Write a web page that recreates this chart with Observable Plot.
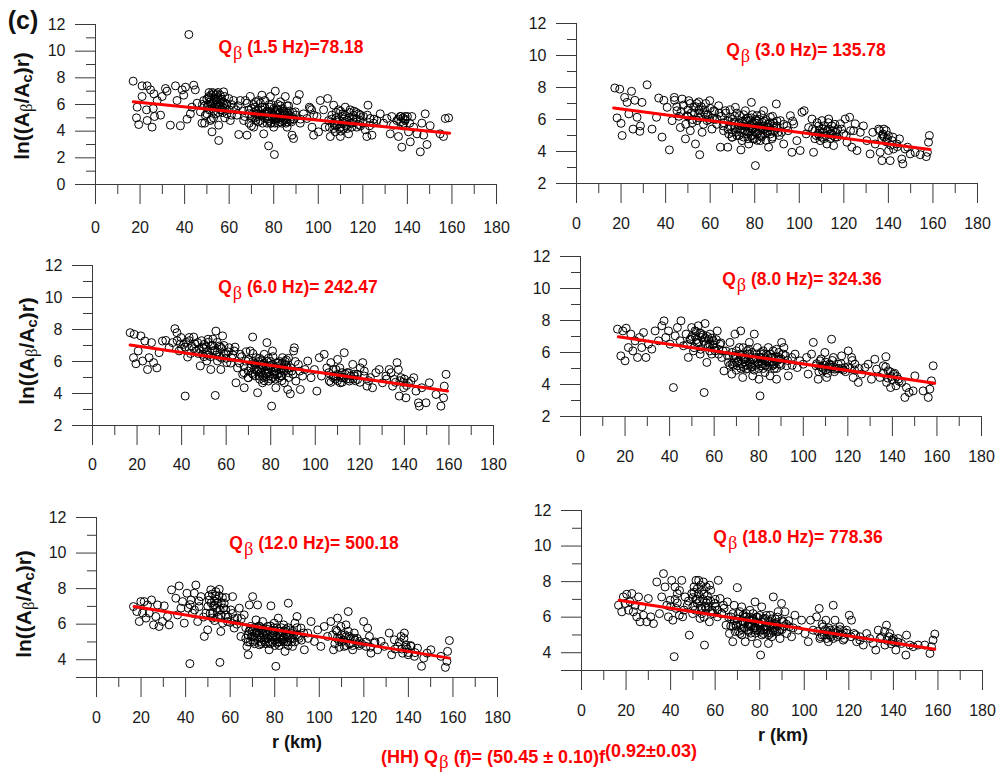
<!DOCTYPE html>
<html>
<head>
<meta charset="utf-8">
<script src="https://cdn.jsdelivr.net/npm/d3@7"></script>
<script src="https://cdn.jsdelivr.net/npm/@observablehq/plot@0.6"></script>
<style>
  html, body { margin: 0; padding: 0; background: #fff; }
  #root { position: relative; width: 999px; height: 774px; overflow: hidden; font-family: "Liberation Sans", Arial, sans-serif; }
  .abs { position: absolute; white-space: nowrap; transform: translate(-50%, -50%); }
  .qlab { color: #ff0000; font-weight: bold; font-size: 17.5px; }
  .beta { font-family: "Liberation Serif", "DejaVu Serif", serif; font-weight: normal; font-size: 1.05em; position: relative; top: 0.3em; margin-left: 1px; }
  .ytitle { font-weight: bold; font-size: 21px; color: #111; line-height: 24px; transform: translate(-50%, -50%) rotate(-90deg); }
  .ytitle sub { font-size: 0.7em; vertical-align: -0.2em; line-height: 0; }
  .ytitle .b { font-family: "Liberation Serif", "DejaVu Serif", serif; font-weight: normal; font-size: 0.8em; }
  .xtitle { font-weight: bold; font-size: 18px; color: #111; }
  .tag { font-weight: bold; font-size: 25px; color: #111; }
  .formula { color: #ff0000; font-weight: bold; font-size: 18px; line-height: 20px; }
  .formula sup { font-size: 1em; vertical-align: 0.35em; line-height: 0; }
  .formula .beta { top: 0.25em; line-height: 0; }
</style>
</head>
<body>
<div id="root"></div>
<script>
// ---------- tick values ----------
const xTicks = [0, 20, 40, 60, 80, 100, 120, 140, 160, 180];
const xMinorTicks = [10, 30, 50, 70, 90, 110, 130, 150, 170];
const yTicksAll = [0, 2, 4, 6, 8, 10, 12];
const yMinorAll = [1, 3, 5, 7, 9, 11];

// ---------- panel labels ----------
const freqs = ["1.5", "3.0", "6.0", "8.0", "12.0", "18.0"];
const qValues = ["=78.18", "= 135.78", "= 242.47", "= 324.36", "= 500.18", "= 778.36"];
const yMins = [0, 2, 2, 2, 3, 3];

// ---------- fitted lines (r, ln value) ----------
const fit1 = [[17, 6.2], [159, 3.85]];
const fit2 = [[16.7, 6.72], [158.7, 4.12]];
const fit3 = [[16.9, 7.03], [159.4, 4.15]];
const fit4 = [[17.0, 6.98], [159.0, 4.08]];
const fit5 = [[16.9, 6.99], [158.4, 4.09]];
const fit6 = [[16.9, 6.95], [158.6, 4.19]];

// ---------- observations (r km, ln((Aβ/Ac)r)) ----------
const pts1 = [[16.9,7.75],[18.7,5.8],[18.4,5.0],[19.4,4.5],[20.9,6.6],[20.9,7.4],[23.2,7.4],[22.9,5.6],[23.2,4.8],[24.7,7.1],[25.4,4.3],[26.2,6.8],[25.9,5.7],[26.5,5.1],[27.7,6.3],[29.2,5.2],[29.9,6.6],[31.4,7.2],[32.1,7.0],[33.6,4.45],[35.9,7.4],[36.6,6.3],[38.1,4.4],[38.9,7.1],[39.6,6.7],[40.4,7.3],[41.1,4.9],[41.9,11.25],[42.6,5.3],[43.3,5.8],[44.1,7.45],[44.8,7.1],[45.6,6.1],[47.1,5.45],[47.8,4.6],[48.6,6.3],[49.3,5.2],[50.1,5.8],[50.8,6.6],[51.6,4.8],[52.3,3.95],[53.1,6.3],[53.8,6.7],[54.6,5.8],[55.3,3.3],[55.3,4.45],[56.1,6.3],[56.8,5.6],[57.5,6.95],[58.3,6.1],[59.0,5.3],[59.8,6.45],[60.5,4.8],[62.0,5.8],[63.5,5.2],[64.3,3.75],[65.0,6.3],[66.5,4.8],[67.3,6.3],[68.0,3.7],[68.8,5.6],[69.5,6.6],[70.3,5.1],[71.0,4.3],[71.7,5.8],[72.5,5.3],[73.2,6.3],[74.0,4.8],[74.7,6.7],[75.5,3.8],[76.2,5.3],[77.0,4.6],[77.7,2.9],[78.2,5.8],[78.5,6.6],[79.2,5.1],[80.0,4.3],[80.3,2.25],[80.7,7.0],[81.5,5.6],[82.2,4.95],[83.0,6.2],[83.7,4.6],[84.5,5.3],[85.2,6.6],[86.0,4.3],[86.7,5.9],[87.4,4.8],[88.2,3.7],[88.9,3.45],[89.7,5.45],[90.4,6.3],[91.5,6.75],[91.9,4.6],[93.4,5.3],[94.9,4.95],[96.4,5.7],[97.2,4.3],[97.9,3.7],[99.4,5.1],[100.1,3.95],[100.9,6.3],[102.4,5.6],[103.1,4.3],[104.2,6.45],[104.6,4.8],[105.4,3.6],[106.1,5.2],[106.9,5.95],[107.6,3.95],[108.4,4.45],[109.1,5.6],[109.9,3.6],[110.6,5.1],[111.4,4.2],[112.1,5.8],[112.9,4.8],[113.6,3.8],[114.3,5.6],[115.1,4.6],[115.8,5.2],[117.3,4.3],[118.1,5.3],[118.8,4.8],[120.3,5.1],[121.1,4.1],[121.8,3.6],[122.3,5.95],[123.3,4.95],[124.1,3.7],[124.8,4.6],[126.3,4.8],[127.8,5.3],[129.3,4.6],[130.8,4.95],[132.3,3.8],[133.0,5.1],[133.8,4.45],[135.3,4.8],[136.0,3.6],[136.8,5.1],[137.5,2.8],[138.3,4.6],[139.0,5.1],[140.5,3.95],[141.3,3.2],[142.0,5.1],[142.8,4.3],[144.3,3.8],[145.8,2.45],[146.5,4.6],[147.3,3.7],[148.0,5.3],[148.8,3.0],[150.2,4.4],[154.7,3.8],[156.2,3.6],[157.0,4.95],[158.5,5.0],
[51,6.5],[52,6.0],[53,5.5],[54,6.4],[55,6.9],[56,5.6],[57,6.2],[58,5.0],[52,4.9],[50,5.3],[49,4.6],[48,6.0],[53,5.0],[55,6.0],[57,5.4],[70,5.0],[72,5.5],[73,4.7],[75,5.2],[76,5.8],[77,4.9],[78,5.4],[79,4.6],[80,5.2],[81,4.9],[82,5.6],[83,4.7],[84,5.1],[85,4.9],[86,5.4],[87,5.2],[88,4.7],[71,6.0],[74,6.1],[79,6.0],[83,5.9],[107,4.6],[108,5.0],[110,4.3],[111,5.3],[113,4.5],[114,5.0],[116,4.7],[117,5.4],[119,4.4],[136,4.9],[137,4.7],[138,5.0],[139,4.8]];
const dense1 = [[49,5.9],[50,6.4],[51,5.6],[51,6.9],[52,6.7],[53,6.1],[53,6.8],[54,5.3],[54,6.0],[55,5.4],[55,6.5],[56,6.1],[56,6.7],[57,5.8],[58,6.6],[58,5.7],[59,6.0],[60,5.6],[61,6.0],[61,5.2],[62,6.3],[63,5.6],[64,5.9],[66,5.5],[67,5.1],[68,6.1],[69,4.6],[69,5.3],[70,5.7],[70,4.4],[71,5.4],[72,4.8],[72,6.2],[73,5.6],[74,5.2],[75,4.6],[75,5.8],[76,5.0],[76,6.3],[77,5.5],[78,4.8],[78,6.0],[79,5.4],[80,4.9],[80,5.7],[81,5.3],[82,4.6],[82,6.0],[83,5.4],[84,4.8],[84,5.7],[85,5.2],[86,4.7],[86,5.9],[87,5.5],[88,5.1],[89,4.9],[90,5.2],[92,4.9],[96,5.8],[97,5.6],[98,5.2],[105,4.3],[106,4.9],[107,4.2],[108,5.4],[109,4.7],[110,4.0],[110,5.5],[111,4.6],[112,5.2],[113,4.2],[114,5.4],[115,4.3],[116,5.5],[117,4.9],[118,4.5],[119,5.2],[120,4.6],[122,5.2],[123,4.4],[125,4.9],[137,5.1],[138,4.4],[139,4.9],[140,5.1],[141,4.6]];
const core1 = [[50.5,6.0],[51.5,6.2],[52.5,5.7],[53.5,6.5],[54.5,6.2],[55.5,5.8],[56.5,6.4],[57.5,6.0],[52.5,6.9],[54.5,6.8],[71.5,5.0],[73.5,5.3],[74.5,5.6],[76.5,5.4],[77.5,5.1],[78.5,4.6],[79.5,5.0],[80.5,5.4],[81.5,5.0],[82.5,5.3],[83.5,5.0],[84.5,5.5],[85.5,4.6],[86.5,5.1],[87.5,4.9],[88.5,5.4],[72.5,5.1],[80.5,4.6],[107.5,4.4],[108.5,4.8],[109.5,4.2],[111.5,4.9],[112.5,4.4],[114.5,4.6],[115.5,4.9]];

const pts2 = [[17.2,7.97],[18.2,6.1],[19.4,7.9],[20.5,5.0],[20.0,5.76],[21.6,7.38],[22.7,7.07],[23.5,6.35],[24.7,7.76],[25.4,5.4],[26.2,7.2],[27.2,6.14],[28.4,5.26],[29.4,7.07],[28.7,5.6],[31.7,8.17],[33.9,5.4],[35.9,6.14],[36.9,7.34],[38.4,4.9],[39.2,7.2],[40.7,6.76],[41.7,4.1],[42.9,5.93],[43.9,7.38],[45.1,6.55],[46.6,5.5],[47.4,7.28],[48.9,4.79],[49.6,6.24],[50.4,7.18],[51.1,5.3],[52.6,6.76],[53.4,4.47],[54.1,5.93],[54.9,7.1],[55.3,3.8],[56.4,5.2],[57.1,6.45],[58.6,5.93],[59.8,7.18],[60.8,5.4],[61.6,6.55],[63.1,6.03],[63.8,6.86],[64.6,4.27],[65.8,5.6],[66.8,6.55],[67.9,4.27],[68.3,5.1],[69.1,6.14],[69.8,4.9],[70.6,5.83],[71.3,6.76],[72.3,5.4],[73.2,6.24],[73.8,4.1],[74.3,4.68],[75.0,5.72],[75.8,6.55],[76.5,5.1],[77.3,4.47],[78.0,5.93],[78.5,7.07],[79.2,5.4],[79.8,4.79],[80.3,3.12],[81.0,6.24],[81.8,5.5],[82.5,4.68],[83.3,5.83],[84.0,6.55],[84.8,5.1],[85.5,5.5],[86.2,4.27],[87.0,6.14],[87.7,4.79],[88.5,5.6],[89.7,6.97],[90.4,5.2],[91.5,5.93],[93.0,4.47],[94.5,5.6],[96.0,6.24],[96.7,3.95],[97.5,5.72],[98.9,4.68],[100.4,4.06],[101.2,6.45],[102.2,6.55],[103.1,5.1],[104.2,5.5],[105.7,6.03],[106.4,3.95],[107.6,5.0],[108.7,5.6],[109.4,4.68],[110.2,5.93],[110.9,5.2],[112.4,4.47],[113.2,6.03],[113.9,5.1],[114.6,5.6],[115.4,4.37],[116.1,4.9],[117.2,5.4],[118.4,5.72],[119.9,5.1],[120.6,6.03],[121.4,4.58],[122.6,6.14],[123.6,4.27],[124.4,5.3],[125.1,5.72],[125.9,4.06],[127.4,5.2],[128.8,5.6],[130.3,4.68],[131.8,3.85],[133.0,5.2],[134.1,4.47],[135.6,5.4],[136.3,3.95],[137.1,3.43],[137.5,5.1],[138.1,4.9],[139.0,5.3],[140.1,4.06],[140.8,3.43],[141.6,4.68],[142.3,4.16],[143.8,4.47],[145.0,4.79],[146.0,3.53],[146.5,3.23],[147.5,4.16],[148.6,4.27],[149.8,3.85],[152.0,3.95],[154.3,3.8],[157.0,3.68],[157.5,3.95],[158.0,4.58],[158.4,5.0],
[66,5.3],[68,5.9],[70,5.2],[71,6.2],[73,5.0],[74,5.6],[76,6.0],[77,5.2],[78,5.6],[79,4.8],[80,5.8],[81,5.1],[82,6.0],[83,4.9],[84,5.6],[86,5.3],[87,5.8],[88,4.9],[90,5.6],[92,5.2],[107,5.3],[109,5.0],[111,4.8],[113,5.4],[115,5.0],[45,6.8],[47,6.5],[50,6.2],[52,6.0],[55,6.6],[58,6.3],[62,6.0],[64,6.4]];
const dense2 = [[44,7.2],[46,6.2],[48,6.9],[49,5.7],[50,6.6],[51,7.0],[52,5.8],[53,6.4],[54,7.0],[55,6.1],[56,6.8],[57,5.7],[58,7.0],[59,6.3],[60,6.7],[61,6.1],[62,6.5],[63,5.7],[65,6.2],[66,5.8],[67,6.4],[68,5.4],[69,6.6],[70,4.9],[70,6.0],[71,5.5],[72,5.0],[72,6.4],[73,5.8],[74,5.2],[75,6.3],[75,4.9],[76,5.6],[77,6.1],[77,4.8],[78,5.3],[79,6.3],[79,5.0],[80,5.5],[81,4.7],[81,5.9],[82,5.3],[83,6.3],[83,5.0],[84,5.4],[85,6.0],[85,4.7],[86,5.7],[87,5.1],[88,6.2],[89,5.3],[90,5.9],[91,5.0],[93,5.7],[95,5.3],[97,5.9],[106,5.4],[107,4.8],[108,5.8],[109,5.3],[110,4.9],[111,5.6],[112,5.0],[113,5.8],[114,4.8],[115,5.3],[116,5.7],[117,4.9],[119,5.4],[121,5.0],[123,5.3],[136,5.3],[137,4.8],[138,5.4],[139,4.6],[140,5.0],[141,4.4],[142,4.9],[144,4.3]];
const core2 = [[51.5,6.4],[53.5,6.8],[55.5,6.4],[57.5,6.6],[59.5,6.0],[69.5,5.6],[71.5,5.2],[72.5,5.7],[73.5,5.4],[74.5,5.9],[75.5,5.3],[76.5,5.9],[77.5,5.5],[78.5,5.0],[79.5,5.7],[80.5,5.2],[81.5,5.6],[82.5,5.0],[83.5,5.5],[84.5,5.9],[85.5,5.2],[86.5,5.5],[87.5,5.3],[88.5,5.8],[89.5,5.5],[78.5,6.1],[80.5,6.0],[108.5,5.1],[110.5,5.4],[112.5,5.3],[114.5,5.1],[116.5,5.2],[137.5,5.0],[139.5,4.8]];

const pts3 = [[16.9,7.8],[18.7,7.7],[18.4,6.24],[19.5,5.86],[20.5,6.66],[21.7,7.6],[22.5,6.03],[23.5,7.28],[24.7,5.5],[25.4,6.24],[26.5,7.18],[27.4,5.93],[28.9,5.6],[29.9,6.55],[31.4,7.28],[32.9,7.32],[34.4,6.86],[35.9,7.18],[37.0,8.05],[37.9,7.8],[38.9,6.66],[39.7,7.5],[40.9,7.07],[41.6,3.84],[42.7,6.28],[43.4,7.5],[44.5,6.97],[45.4,7.53],[46.4,6.66],[47.2,7.18],[48.4,5.72],[49.4,6.45],[50.1,7.07],[51.3,6.03],[51.9,7.39],[53.1,5.5],[53.9,6.66],[55.1,3.88],[55.4,7.9],[56.1,6.03],[56.9,6.97],[57.6,5.5],[58.4,7.6],[59.1,6.45],[60.3,5.93],[61.4,6.86],[62.4,6.24],[63.6,6.66],[64.4,4.67],[65.1,5.6],[66.3,6.45],[67.4,5.2],[68.1,4.36],[68.9,6.03],[69.9,4.99],[70.8,6.66],[71.9,7.53],[72.6,5.5],[73.4,6.24],[74.1,4.05],[74.9,5.09],[75.6,5.82],[76.3,4.67],[77.1,6.45],[77.8,5.3],[78.3,7.18],[79.0,4.78],[79.8,5.72],[80.4,3.21],[80.8,6.66],[81.6,5.2],[82.3,4.36],[83.1,5.93],[83.8,4.99],[84.6,5.5],[85.3,6.24],[86.1,4.67],[86.8,5.72],[87.6,4.25],[88.8,3.98],[89.4,5.4],[90.3,6.66],[90.6,6.86],[91.3,4.78],[92.4,5.82],[93.3,4.25],[94.3,5.09],[95.4,5.5],[96.6,6.03],[98.1,4.99],[99.6,5.5],[100.7,4.15],[101.8,6.24],[102.8,5.09],[104.0,6.45],[105.2,5.6],[106.3,4.78],[107.0,5.93],[108.2,5.09],[109.3,5.5],[110.0,6.13],[111.2,4.67],[112.3,4.99],[113.0,6.55],[114.2,5.3],[115.3,4.78],[116.8,5.82],[117.5,5.09],[119.0,4.88],[120.2,5.6],[121.3,5.93],[122.0,5.09],[123.2,4.46],[124.7,4.99],[125.7,4.36],[127.2,5.3],[128.7,5.5],[130.2,4.67],[131.7,5.09],[133.2,5.5],[134.7,4.46],[135.5,4.88],[136.7,5.93],[137.3,5.5],[137.7,3.84],[138.5,4.99],[139.7,4.36],[140.7,3.73],[141.8,4.67],[143.0,4.78],[144.2,4.99],[145.2,4.15],[146.3,3.42],[146.7,3.21],[147.8,4.36],[149.7,3.42],[151.2,4.67],[154.2,3.94],[156.4,3.21],[157.6,3.73],[157.9,4.46],[158.7,5.2],
[68,5.7],[70,5.4],[72,6.0],[73,5.1],[75,5.5],[76,6.1],[77,5.0],[78,5.7],[79,5.3],[80,6.0],[81,5.0],[82,5.6],[83,5.2],[84,6.0],[85,5.1],[86,5.5],[87,6.1],[88,5.3],[50,6.8],[52,6.4],[54,7.0],[56,6.6],[58,6.2],[60,6.5],[62,5.9],[108,5.0],[110,4.8],[112,5.3],[114,4.9],[116,5.1],[118,4.8]];
const dense3 = [[38,7.3],[40,6.8],[42,7.2],[44,6.5],[46,7.1],[48,6.8],[49,7.3],[50,6.3],[51,6.9],[52,7.2],[53,6.3],[54,7.4],[55,6.7],[56,7.2],[57,6.3],[58,6.8],[59,7.0],[60,6.2],[61,6.6],[63,6.4],[64,6.9],[66,5.9],[67,6.3],[68,5.3],[69,6.6],[70,5.0],[70,6.1],[71,5.6],[72,5.2],[72,6.5],[73,5.8],[74,5.4],[75,6.2],[75,4.9],[76,5.6],[77,5.9],[77,4.8],[78,5.2],[79,6.2],[79,5.5],[80,4.9],[80,5.6],[81,6.3],[82,5.4],[82,4.9],[83,5.7],[84,5.3],[85,5.9],[85,4.8],[86,5.4],[87,5.8],[88,5.0],[88,6.2],[89,5.6],[90,5.2],[91,6.0],[93,5.4],[106,5.3],[107,4.7],[108,5.5],[109,4.9],[110,5.2],[111,5.6],[112,4.7],[113,5.0],[115,5.3],[117,4.9],[119,5.2],[120,4.7],[122,5.4],[124,4.8],[132,4.9],[134,5.3],[136,4.7],[138,4.8],[140,4.9],[141,4.5]];
const core3 = [[39.5,7.1],[41.5,6.9],[43.5,7.3],[45.5,6.8],[47.5,6.5],[49.5,6.9],[51.5,6.6],[53.5,7.0],[55.5,6.4],[57.5,6.9],[71.5,5.3],[72.5,5.9],[73.5,5.5],[74.5,6.0],[75.5,5.3],[76.5,5.8],[77.5,5.4],[78.5,6.0],[79.5,5.1],[80.5,5.8],[81.5,5.4],[82.5,5.9],[83.5,5.5],[84.5,5.1],[85.5,5.6],[86.5,6.0],[87.5,5.6],[76.5,5.1],[109.5,5.1],[111.5,5.0],[113.5,5.2],[115.5,4.9],[117.5,5.2],[139.5,4.7]];

const pts4 = [[16.6,7.46],[18.1,5.79],[19.0,7.35],[20.0,5.48],[20.5,7.52],[21.5,6.31],[22.6,7.15],[23.5,6.1],[24.5,6.73],[25.6,5.69],[26.5,6.94],[27.5,6.31],[28.3,7.25],[29.4,5.69],[30.5,6.52],[32.0,6.21],[33.5,7.35],[35.0,6.73],[36.5,7.67],[37.5,7.98],[38.3,6.94],[39.5,7.35],[40.2,6.52],[41.7,3.81],[42.5,7.04],[43.5,7.56],[44.7,6.73],[45.1,7.98],[46.2,6.42],[47.4,7.15],[48.4,5.69],[49.2,6.83],[49.9,7.56],[50.7,6.1],[51.4,7.35],[52.2,6.63],[52.9,7.67],[53.7,5.9],[54.4,6.94],[55.5,3.5],[55.9,7.81],[56.7,5.38],[57.4,6.42],[58.1,7.15],[58.9,5.9],[59.6,6.73],[60.4,6.1],[61.4,7.35],[62.6,6.52],[63.4,5.69],[64.4,4.85],[65.3,6.1],[66.4,5.38],[67.1,6.63],[67.9,4.65],[68.6,5.79],[69.4,7.15],[70.4,5.17],[71.3,6.31],[71.9,7.35],[72.8,4.44],[73.4,5.58],[74.3,4.96],[74.9,6.1],[75.8,6.63],[76.4,5.27],[77.3,4.54],[78.0,7.15],[78.8,5.69],[79.4,6.31],[80.1,4.33],[80.6,3.29],[81.3,5.17],[82.1,5.9],[82.8,4.75],[83.6,5.48],[84.3,6.31],[85.1,4.54],[85.8,5.17],[86.5,6.1],[88.0,4.33],[89.2,5.58],[90.3,6.63],[91.3,6.31],[92.5,5.17],[93.3,4.54],[94.8,5.69],[96.3,5.9],[97.3,5.06],[98.5,5.48],[100.0,5.27],[101.5,5.69],[102.2,4.65],[103.7,5.9],[104.5,6.63],[105.7,5.17],[106.7,4.33],[107.5,5.48],[108.7,4.85],[109.7,6.0],[110.5,4.44],[111.7,5.27],[112.7,6.83],[113.5,5.69],[114.2,4.96],[115.7,5.27],[117.2,5.79],[118.7,5.06],[120.2,6.1],[121.7,5.69],[122.4,4.44],[123.2,5.27],[124.7,4.13],[126.2,4.65],[127.7,5.06],[129.1,5.27],[130.6,4.33],[132.1,5.58],[132.9,4.96],[134.4,4.44],[135.9,5.17],[137.1,5.73],[137.4,4.13],[138.1,4.85],[139.2,3.81],[140.4,4.65],[141.6,3.92],[142.6,4.33],[144.1,4.13],[145.6,3.19],[146.3,3.81],[147.5,3.5],[149.3,3.6],[150.1,4.54],[153.8,3.6],[156.1,3.19],[156.8,3.71],[157.5,4.23],[158.3,5.17],
[68,5.3],[70,5.7],[72,5.0],[74,5.4],[76,5.9],[77,5.1],[79,5.6],[80,5.0],[81,6.0],[83,5.2],[84,5.8],[86,5.4],[87,5.0],[89,6.0],[90,5.6],[92,5.8],[52,6.8],[54,7.2],[56,6.9],[58,6.5],[60,6.6],[62,6.2],[108,5.1],[110,4.9],[112,5.2],[116,5.0],[118,4.9],[120,5.1],[122,5.5]];
const dense4 = [[48,6.5],[50,7.0],[51,6.3],[52,7.3],[53,6.6],[54,6.2],[55,7.1],[56,6.5],[57,7.0],[58,6.1],[59,6.9],[60,6.3],[61,6.8],[62,5.9],[63,6.6],[64,6.1],[66,5.8],[67,5.2],[68,6.0],[69,5.4],[70,4.9],[70,6.1],[71,5.5],[72,5.8],[73,5.1],[73,6.3],[74,5.6],[75,5.0],[75,5.9],[76,5.4],[77,6.0],[78,4.9],[78,5.5],[79,5.9],[80,5.3],[81,5.7],[82,5.0],[82,6.1],[83,5.6],[84,5.1],[85,5.9],[85,5.4],[86,5.7],[87,5.3],[88,6.2],[88,5.0],[89,5.7],[90,5.2],[91,5.9],[93,5.5],[95,5.2],[106,5.3],[107,4.8],[108,5.6],[109,5.0],[110,5.4],[111,4.7],[112,5.1],[113,5.5],[114,4.8],[115,5.0],[117,5.3],[119,4.8],[121,5.0],[123,4.9],[125,5.0],[136,4.7],[137,5.1],[138,4.4],[139,4.8],[140,4.3],[141,4.7],[142,4.5],[143,4.2]];
const core4 = [[49.5,6.8],[51.5,7.0],[53.5,7.2],[55.5,6.7],[57.5,6.8],[59.5,6.5],[68.5,5.2],[69.5,5.8],[70.5,5.4],[71.5,5.9],[72.5,5.3],[73.5,5.7],[74.5,5.2],[75.5,5.6],[76.5,5.1],[77.5,5.6],[78.5,5.2],[79.5,5.4],[80.5,5.7],[81.5,5.3],[82.5,5.5],[83.5,5.9],[84.5,5.4],[85.5,5.7],[86.5,5.2],[87.5,5.7],[88.5,5.5],[89.5,5.3],[75.5,6.2],[109.5,5.2],[111.5,5.0],[113.5,5.1],[117.5,5.0],[139.5,4.5]];

const pts5 = [[16.6,6.99],[18.1,6.71],[19.2,6.15],[19.9,7.27],[20.7,6.62],[21.4,7.27],[22.2,6.34],[22.9,7.08],[23.7,6.62],[24.7,7.36],[25.6,5.96],[26.6,6.43],[27.4,7.08],[28.1,5.87],[29.6,6.15],[30.4,7.03],[31.9,6.43],[32.6,5.96],[33.7,7.93],[35.6,7.46],[36.4,6.52],[37.1,8.15],[37.9,6.9],[38.6,7.27],[39.4,6.06],[40.6,7.74],[41.2,6.9],[41.9,3.78],[42.4,7.36],[43.1,6.62],[43.9,7.74],[44.6,8.2],[45.4,6.15],[46.1,6.99],[46.9,7.55],[48.4,5.31],[49.1,6.62],[49.9,5.68],[50.6,7.36],[51.3,7.93],[52.1,6.34],[52.8,7.08],[53.6,7.83],[54.3,6.71],[55.1,7.96],[55.4,3.85],[55.8,5.59],[56.6,6.06],[57.3,7.18],[58.1,6.52],[58.8,6.15],[60.3,6.8],[61.1,7.55],[61.8,5.78],[63.3,6.34],[64.1,6.9],[64.8,5.31],[66.3,6.52],[67.5,4.75],[68.1,4.28],[68.6,7.08],[69.3,5.87],[70.1,7.55],[70.8,5.31],[71.6,6.24],[72.3,7.08],[73.1,4.84],[73.8,5.68],[74.6,6.15],[75.3,5.12],[76.0,5.5],[76.8,5.87],[77.5,4.56],[78.3,7.03],[79.0,5.31],[79.8,6.06],[80.5,3.63],[81.0,4.93],[81.6,6.34],[82.5,5.59],[83.1,5.12],[84.0,5.96],[84.6,4.47],[85.5,5.31],[86.1,7.18],[87.0,5.68],[88.0,4.75],[89.1,6.06],[90.0,6.43],[90.6,5.31],[91.8,5.78],[93.3,4.56],[94.8,5.5],[96.3,6.15],[97.8,5.03],[99.3,5.68],[100.7,4.75],[102.2,5.87],[103.7,5.31],[105.2,6.15],[106.4,4.56],[107.5,5.68],[108.2,6.34],[109.0,5.03],[109.7,5.87],[111.2,4.75],[112.0,5.96],[113.0,6.71],[113.5,5.31],[115.0,4.56],[115.7,5.5],[118.0,5.03],[119.9,6.15],[121.0,4.75],[121.7,5.78],[122.5,5.31],[123.2,4.37],[124.7,4.93],[126.2,4.56],[127.7,5.03],[129.2,4.75],[131.4,5.5],[132.5,4.28],[133.7,5.12],[135.2,4.75],[136.7,5.31],[137.4,4.37],[138.2,5.5],[138.9,4.84],[139.9,4.28],[141.2,4.75],[142.7,4.19],[144.1,4.65],[145.9,3.63],[146.9,4.09],[148.4,4.37],[150.1,4.56],[154.6,4.19],[156.6,3.57],[157.3,3.91],[157.6,4.47],[158.4,5.08],
[68,5.4],[69,5.0],[70,5.6],[71,5.1],[72,5.5],[73,5.9],[74,5.0],[75,5.4],[76,5.2],[77,5.7],[78,4.9],[79,5.5],[80,5.1],[81,5.8],[82,5.0],[83,5.4],[84,5.2],[85,5.7],[86,5.0],[87,5.5],[88,5.2],[90,5.4],[92,5.1],[108,5.2],[110,5.0],[112,5.3],[114,4.9],[116,5.1],[118,4.8],[52,6.6],[54,7.4],[56,7.2],[58,6.8]];
const dense5 = [[42,7.1],[44,6.8],[46,7.3],[48,6.4],[50,7.0],[51,6.6],[52,7.7],[53,6.2],[53,7.3],[54,6.9],[55,7.6],[56,6.5],[57,6.9],[58,7.5],[59,6.4],[60,6.1],[61,6.6],[62,6.3],[63,6.0],[65,6.3],[67,5.8],[67,5.2],[68,5.0],[69,5.7],[70,5.3],[71,5.8],[71,4.9],[72,5.2],[73,5.5],[74,5.8],[74,4.9],[75,5.7],[76,4.9],[76,5.6],[77,5.2],[78,5.6],[78,5.9],[79,5.0],[80,5.6],[80,4.8],[81,5.3],[82,5.6],[82,4.8],[83,5.8],[84,5.0],[85,5.4],[86,5.8],[86,4.8],[87,5.2],[88,5.6],[89,5.0],[90,5.8],[91,5.2],[93,5.5],[95,5.2],[106,5.4],[107,4.9],[108,5.6],[109,4.7],[110,5.4],[111,5.1],[112,4.8],[113,5.6],[114,5.2],[115,4.8],[117,5.2],[119,4.9],[121,5.0],[123,4.7],[125,5.0],[134,4.6],[136,5.0],[137,4.6],[138,5.2],[139,4.7],[140,4.4],[141,4.8],[143,4.4]];
const core5 = [[50.5,7.6],[51.5,7.2],[52.5,7.0],[53.5,7.6],[54.5,7.2],[55.5,6.8],[56.5,7.5],[54.5,6.4],[68.5,5.6],[69.5,5.3],[70.5,5.0],[71.5,5.5],[72.5,5.8],[73.5,5.2],[74.5,5.5],[75.5,5.0],[76.5,5.4],[77.5,5.0],[78.5,5.3],[79.5,5.8],[80.5,5.3],[81.5,5.0],[82.5,5.3],[83.5,5.1],[84.5,5.6],[85.5,5.0],[86.5,5.4],[87.5,5.0],[88.5,5.4],[109.5,5.2],[111.5,5.4],[113.5,4.9],[115.5,5.2],[117.5,4.9],[139.5,4.6]];

const pts6 = [[16.6,6.67],[18.1,6.3],[18.8,7.14],[19.6,6.77],[20.3,7.29],[21.1,6.39],[21.8,6.86],[22.6,7.33],[23.3,6.3],[24.1,6.67],[24.8,6.02],[25.6,7.14],[26.3,5.74],[27.1,6.58],[27.8,6.11],[29.3,5.74],[30.0,7.05],[31.1,6.02],[32.3,5.64],[33.8,7.98],[35.0,6.2],[36.0,7.14],[36.8,8.45],[37.5,7.7],[38.3,6.67],[39.0,6.02],[39.8,6.95],[40.5,8.07],[41.0,5.83],[41.6,3.78],[42.0,7.7],[42.5,6.49],[43.0,7.33],[43.9,6.11],[45.0,8.07],[45.4,6.02],[46.5,7.14],[47.5,6.67],[48.4,4.99],[49.5,7.33],[49.9,6.2],[50.5,7.7],[51.4,8.07],[52.0,6.77],[52.6,8.07],[53.2,5.93],[54.0,7.51],[54.7,7.98],[55.2,4.43],[55.9,6.49],[56.5,6.95],[57.4,5.74],[58.0,7.51],[58.6,6.39],[59.9,6.77],[61.0,6.02],[61.4,8.07],[62.2,7.05],[62.9,6.2],[63.7,6.67],[64.9,5.55],[65.5,6.86],[66.4,5.08],[67.0,6.02],[67.9,4.62],[68.5,6.67],[69.4,5.55],[70.0,7.66],[70.4,6.2],[71.2,5.08],[71.9,6.58],[72.6,5.74],[73.5,4.62],[74.1,6.02],[74.9,5.46],[75.6,6.39],[76.4,4.9],[77.1,5.93],[77.9,6.86],[78.3,5.27],[78.9,4.52],[79.8,5.64],[80.4,3.87],[80.9,6.58],[81.6,5.08],[82.4,5.93],[83.1,5.46],[83.9,4.52],[84.6,6.11],[85.4,4.9],[86.1,7.14],[86.8,5.64],[87.6,5.18],[88.3,6.3],[89.1,4.8],[89.8,6.77],[90.6,5.74],[91.3,6.3],[92.1,5.08],[93.3,5.46],[94.3,4.9],[95.8,6.11],[97.3,5.27],[98.8,5.83],[100.3,5.08],[101.8,4.62],[102.8,5.83],[104.0,5.27],[105.5,6.02],[106.7,6.49],[107.3,4.9],[108.5,5.46],[109.7,5.83],[110.8,4.62],[111.8,5.27],[113.0,6.67],[113.8,5.83],[114.8,4.9],[116.0,5.46],[117.5,4.71],[119.0,5.27],[120.2,6.11],[121.2,5.83],[122.3,5.08],[123.5,4.62],[125.0,4.9],[126.5,4.43],[128.0,5.08],[129.4,4.8],[130.9,4.52],[132.1,4.15],[133.2,5.27],[134.7,4.9],[136.2,4.43],[136.9,5.55],[138.4,5.08],[139.9,4.62],[141.1,4.15],[142.2,4.8],[143.6,4.52],[145.6,3.87],[145.9,4.99],[147.4,4.43],[148.9,4.34],[151.1,4.43],[154.1,4.43],[156.4,3.96],[157.1,4.34],[157.8,4.71],[158.6,5.05],
[68,5.5],[70,5.9],[72,5.3],[73,6.0],[75,5.6],[76,5.1],[77,5.8],[78,5.4],[79,6.0],[80,5.2],[81,5.7],[82,5.3],[83,6.1],[84,5.0],[85,5.6],[86,5.2],[87,5.9],[88,5.5],[90,5.3],[92,5.6],[108,5.0],[110,5.2],[112,4.9],[114,5.1],[116,5.3],[118,4.8],[50,6.6],[52,7.0],[54,6.5],[56,6.8],[58,6.3],[60,6.6]];
const dense6 = [[40,6.6],[42,7.0],[43,6.8],[44,7.5],[46,6.4],[48,6.9],[50,7.1],[51,6.4],[52,7.6],[53,6.9],[54,6.2],[55,7.3],[55,6.0],[56,7.7],[57,6.6],[58,6.9],[59,6.2],[60,7.0],[61,6.4],[63,6.2],[64,6.5],[66,6.0],[67,5.5],[68,6.2],[69,5.2],[70,5.7],[71,6.3],[72,5.0],[72,5.8],[73,5.4],[74,6.2],[75,5.2],[75,5.9],[76,5.5],[77,6.2],[78,5.1],[78,5.7],[79,5.3],[80,6.1],[80,5.5],[81,5.0],[82,5.8],[83,5.3],[84,5.8],[85,5.1],[86,5.6],[87,5.3],[88,6.0],[89,5.3],[90,5.8],[91,5.5],[93,5.8],[95,5.4],[106,5.2],[107,4.8],[108,5.6],[109,5.0],[110,4.8],[111,5.4],[112,5.1],[113,4.8],[115,5.2],[117,5.0],[119,5.1],[121,4.9],[123,5.0],[125,4.7],[134,4.8],[136,5.2],[137,4.7],[138,4.9],[139,4.5],[140,4.8],[142,4.6]];
const core6 = [[50.5,7.4],[51.5,7.0],[52.5,7.3],[53.5,7.8],[54.5,7.0],[55.5,6.6],[56.5,7.2],[57.5,7.8],[53.5,6.5],[68.5,5.8],[69.5,5.5],[70.5,5.2],[71.5,5.6],[72.5,6.1],[73.5,5.7],[74.5,5.3],[75.5,5.6],[76.5,5.9],[77.5,5.4],[78.5,6.0],[79.5,5.6],[80.5,5.3],[81.5,5.9],[82.5,5.5],[83.5,5.1],[84.5,5.5],[85.5,5.9],[86.5,5.4],[87.5,5.7],[88.5,5.2],[109.5,5.3],[111.5,5.0],[113.5,5.3],[115.5,5.0],[117.5,5.2],[139.5,4.7]];

const allPoints = [
  pts1.concat(dense1, core1), pts2.concat(dense2, core2), pts3.concat(dense3, core3),
  pts4.concat(dense4, core4), pts5.concat(dense5, core5), pts6.concat(dense6, core6)
];
const allFits = [fit1, fit2, fit3, fit4, fit5, fit6];

// ---------- layout (frame pixel boxes) ----------
const frames = [
  {left: 95,    top: 24.3,  xpad: 17, label: [291, 47]},
  {left: 576,   top: 22.7,  xpad: 14, label: [806, 50]},
  {left: 91.7,  top: 264.7, xpad: 13, label: [298, 287]},
  {left: 580.3, top: 255.7, xpad: 14, label: [802, 279]},
  {left: 95.7,  top: 517.3, xpad: 14, label: [314, 543]},
  {left: 581.3, top: 510,   xpad: 14, label: [798, 537]}
];

const root = document.getElementById("root");
const FW = 401, FH = 160, mL = 100, mT = 24, mR = 8, mB = 66;
const axisColor = "#3a3a3a";

frames.forEach((f, i) => {
  const ymin = yMins[i];
  const svg = Plot.plot({
    width: FW + mL + mR,
    height: FH + mT + mB,
    marginLeft: mL, marginTop: mT, marginRight: mR, marginBottom: mB,
    x: {domain: [0, 180]},
    y: {domain: [ymin, 12]},
    style: {fontFamily: '"Liberation Sans", Arial, sans-serif', fontSize: "16px", color: "#1a1a1a", background: "transparent", overflow: "visible"},
    marks: [
      Plot.axisX(xTicks, {anchor: "bottom", tickSize: 20, tickPadding: f.xpad, label: null, stroke: axisColor, fontSize: 16}),
      Plot.axisX(xMinorTicks, {anchor: "bottom", tickSize: 10, tickFormat: () => "", label: null, stroke: axisColor}),
      Plot.axisY(yTicksAll.filter(v => v >= ymin), {anchor: "left", tickSize: 20, tickPadding: 10, label: null, stroke: axisColor, fontSize: 16}),
      Plot.axisY(yMinorAll.filter(v => v > ymin), {anchor: "left", tickSize: 9, tickFormat: () => "", label: null, stroke: axisColor}),
      Plot.ruleX([0], {stroke: axisColor}),
      Plot.ruleY([ymin], {stroke: axisColor, insetLeft: -20}),
      Plot.dot(allPoints[i], {x: d => d[0], y: d => d[1], r: 4, stroke: "#000", strokeWidth: 1, fill: "none"}),
      Plot.line(allFits[i], {x: d => d[0], y: d => d[1], stroke: "#ff0000", strokeWidth: 3})
    ]
  });
  svg.style.position = "absolute";
  svg.style.left = (f.left - mL) + "px";
  svg.style.top = (f.top - mT) + "px";
  root.appendChild(svg);

  const lab = document.createElement("div");
  lab.className = "abs qlab";
  lab.style.left = f.label[0] + "px";
  lab.style.top = f.label[1] + "px";
  lab.innerHTML = `Q<span class="beta">β</span> (${freqs[i]} Hz)${qValues[i]}`;
  root.appendChild(lab);
});

function addText(cls, x, y, html) {
  const d = document.createElement("div");
  d.className = "abs " + cls;
  d.style.left = x + "px";
  d.style.top = y + "px";
  d.innerHTML = html;
  root.appendChild(d);
}
const yTitle = 'ln((A<sub class="b">β</sub>/A<sub>c</sub>)r)';
addText("ytitle", 22, 106, yTitle);
addText("ytitle", 27, 351, yTitle);
addText("ytitle", 24, 604, yTitle);
addText("xtitle", 297, 742, "r (km)");
addText("xtitle", 783, 735, "r (km)");
addText("tag", 23, 20, "(c)");
addText("formula", 539, 757, '(HH) Q<span class="beta">β</span> (f)= (50.45 ± 0.10)f<sup>(0.92±0.03)</sup>');
</script>
</body>
</html>
